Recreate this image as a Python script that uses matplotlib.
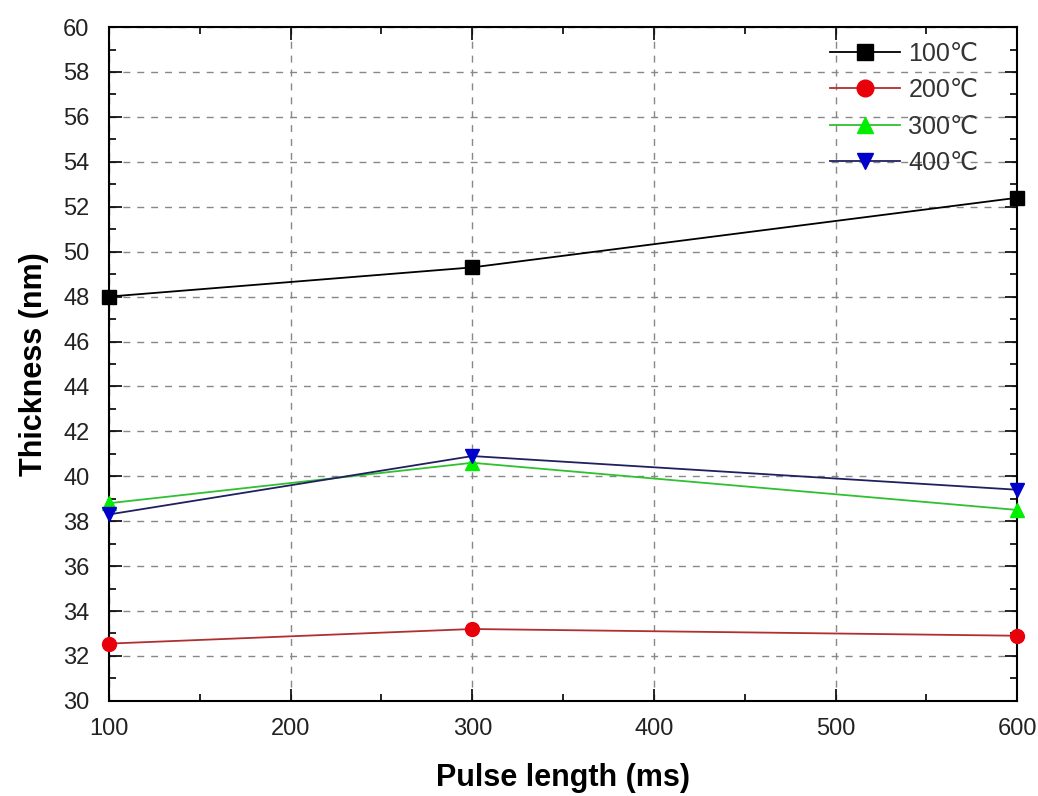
import matplotlib
matplotlib.use("Agg")
import matplotlib.pyplot as plt
from matplotlib.ticker import MultipleLocator

plt.rcParams['font.family'] = ['Liberation Sans', 'DejaVu Sans']

pulse = [100, 300, 600]
labels = ['100\u2103', '200\u2103', '300\u2103', '400\u2103']
t100 = [48.0, 49.3, 52.4]
t200 = [32.55, 33.2, 32.9]
t300 = [38.8, 40.6, 38.5]
t400 = [38.3, 40.9, 39.4]

series = [t100, t200, t300, t400]
colors = ['black', '#e8000b', '#00ee00', '#0000cc']
markers = ['s', 'o', '^', 'v']
line_colors = ['black', '#b03030', '#30c030', '#202060']

fig = plt.figure(figsize=(10.38, 7.96), dpi=100)
ax = fig.add_axes([0.105, 0.1195, 0.875, 0.8465])

for ys, lab, c, m, lc in zip(series, labels, colors, markers, line_colors):
    ax.plot(pulse, ys, color=lc, lw=1.3, marker=m, markersize=10,
            markerfacecolor=c, markeredgecolor=c, label=lab, clip_on=False, zorder=3)

ax.set_xlim(100, 600)
ax.set_ylim(30, 60)
ax.xaxis.set_major_locator(MultipleLocator(100))
ax.xaxis.set_minor_locator(MultipleLocator(50))
ax.yaxis.set_major_locator(MultipleLocator(2))
ax.yaxis.set_minor_locator(MultipleLocator(1))
ax.tick_params(which='both', direction='in', top=True, right=True, labelsize=17,
               colors='black', labelcolor='#222222')
ax.tick_params(which='major', length=9, width=1.2)
ax.tick_params(which='minor', length=5, width=1.2)
ax.tick_params(axis='x', pad=12)
ax.tick_params(axis='y', pad=14)
ax.grid(True, which='major', color='#888888', linestyle=(0, (5, 5)), lw=1.0)
for s in ax.spines.values():
    s.set_linewidth(1.5)

ax.set_xlabel('Pulse length (ms)', fontsize=22, fontweight='bold', labelpad=17)
ax.set_ylabel('Thickness (nm)', fontsize=22, fontweight='bold', labelpad=10)

leg = ax.legend(loc='upper right', bbox_to_anchor=(0.982, 1.012), frameon=False, fontsize=18,
                handlelength=2.8, labelspacing=0.5, handletextpad=0.35, markerscale=1.2)
for t in leg.get_texts():
    t.set_color('#333333')

fig.savefig('out.png', dpi=100)
